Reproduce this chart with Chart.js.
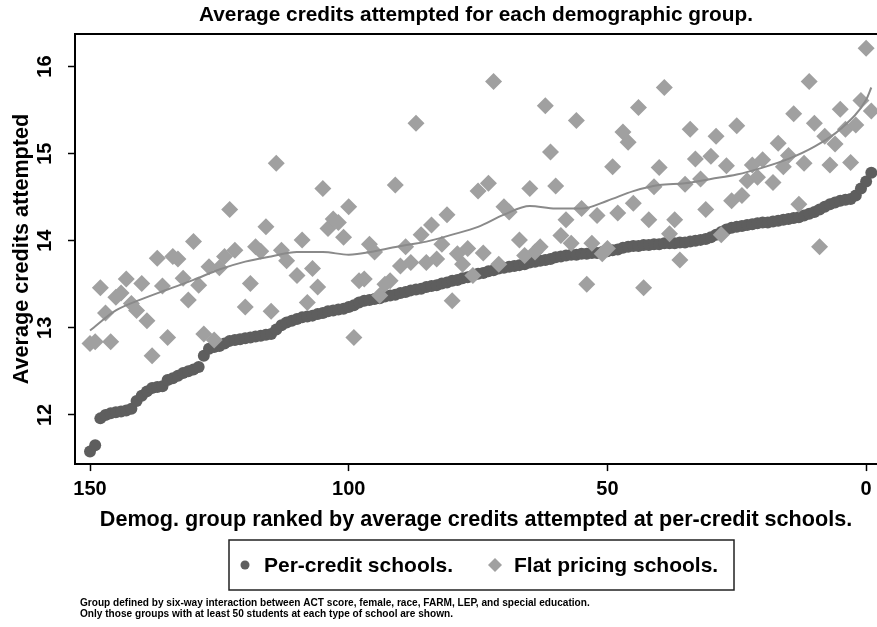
<!DOCTYPE html>
<html>
<head>
<meta charset="utf-8">
<title>Average credits attempted for each demographic group</title>
<script src="https://cdn.jsdelivr.net/npm/chart.js@4/dist/chart.umd.min.js"></script>
<style>
  html, body { margin: 0; padding: 0; background: #fff; }
  canvas { display: block; }
</style>
</head>
<body>
<canvas id="chart" width="877" height="627"></canvas>
<script>
// groups ranked by credits attempted at per-credit schools (150 = lowest)
const groupRanks = [
  150, 149, 148, 147, 146, 145, 144, 143, 142, 141,
  140, 139, 138, 137, 136, 135, 134, 133, 132, 131,
  130, 129, 128, 127, 126, 125, 124, 123, 122, 121,
  120, 119, 118, 117, 116, 115, 114, 113, 112, 111,
  110, 109, 108, 107, 106, 105, 104, 103, 102, 101,
  100, 99, 98, 97, 96, 95, 94, 93, 92, 91,
  90, 89, 88, 87, 86, 85, 84, 83, 82, 81,
  80, 79, 78, 77, 76, 75, 74, 73, 72, 71,
  70, 69, 68, 67, 66, 65, 64, 63, 62, 61,
  60, 59, 58, 57, 56, 55, 54, 53, 52, 51,
  50, 49, 48, 47, 46, 45, 44, 43, 42, 41,
  40, 39, 38, 37, 36, 35, 34, 33, 32, 31,
  30, 29, 28, 27, 26, 25, 24, 23, 22, 21,
  20, 19, 18, 17, 16, 15, 14, 13, 12, 11,
  10, 9, 8, 7, 6, 5, 4, 3, 2, 1,
  0, -1
];
const perCreditCredits = [
  11.58, 11.65, 11.96, 12.00, 12.02, 12.03, 12.04, 12.05, 12.07, 12.16,
  12.22, 12.27, 12.31, 12.32, 12.33, 12.40, 12.42, 12.45, 12.48, 12.50,
  12.52, 12.55, 12.68, 12.76, 12.78, 12.79, 12.82, 12.85, 12.86, 12.87,
  12.88, 12.89, 12.90, 12.91, 12.92, 12.93, 12.98, 13.03, 13.06, 13.08,
  13.10, 13.12, 13.13, 13.14, 13.16, 13.17, 13.19, 13.20, 13.21, 13.22,
  13.24, 13.26, 13.29, 13.31, 13.32, 13.33, 13.34, 13.36, 13.37, 13.38,
  13.40, 13.41, 13.43, 13.44, 13.45, 13.47, 13.48, 13.49, 13.51, 13.52,
  13.54, 13.55, 13.57, 13.58, 13.60, 13.62, 13.63, 13.65, 13.66, 13.68,
  13.69, 13.70, 13.71, 13.72, 13.73, 13.75, 13.76, 13.77, 13.78, 13.79,
  13.81, 13.82, 13.83, 13.84, 13.84, 13.85, 13.85, 13.86, 13.86, 13.87,
  13.88, 13.89, 13.90, 13.92, 13.93, 13.94, 13.94, 13.95, 13.95, 13.96,
  13.96, 13.97, 13.97, 13.97, 13.98, 13.98, 13.99, 14.00, 14.01, 14.02,
  14.04, 14.07, 14.10, 14.13, 14.15, 14.16, 14.17, 14.18, 14.19, 14.20,
  14.21, 14.21, 14.22, 14.23, 14.24, 14.25, 14.26, 14.27, 14.29, 14.31,
  14.33, 14.36, 14.39, 14.42, 14.44, 14.46, 14.47, 14.48, 14.52, 14.60,
  14.68, 14.78
];

// flat pricing schools, same groups (some hidden under others)
const flatRanks = [
  150, 149, 148, 147, 146, 145, 144, 143, 142, 141,
  140, 139, 138, 137, 136, 135, 134, 133, 132, 131,
  130, 129, 128, 127, 126, 125, 124, 123, 122, 120,
  119, 118, 117, 116, 115, 114, 113, 112, 110, 109,
  108, 107, 106, 105, 104, 103, 102, 101, 100, 99,
  98, 97, 96, 95, 94, 93, 92, 91, 90, 89,
  88, 87, 86, 85, 84, 83, 82, 81, 80, 79,
  78, 77, 76, 75, 74, 73, 72, 71, 70, 69,
  67, 66, 65, 64, 63, 62, 61, 60, 59, 58,
  57, 56, 55, 54, 53, 52, 51, 50, 49, 48,
  47, 46, 45, 44, 43, 42, 41, 40, 39, 38,
  37, 36, 35, 34, 33, 32, 31, 30, 29, 28,
  27, 26, 25, 24, 23, 22, 21, 20, 18, 17,
  16, 15, 14, 13, 12, 11, 10, 9, 8, 7,
  6, 5, 4, 3, 2, 1, 0, -1
];
const flatCredits = [
  12.82, 12.84, 13.46, 13.17, 12.84, 13.35, 13.40, 13.56, 13.28, 13.20,
  13.51, 13.08, 12.68, 13.80, 13.48, 12.89, 13.82, 13.79, 13.57, 13.32,
  13.99, 13.49, 12.93, 13.70, 12.86, 13.69, 13.82, 14.36, 13.89, 13.24,
  13.51, 13.93, 13.88, 14.16, 13.19, 14.89, 13.89, 13.77, 13.60, 14.01,
  13.29, 13.68, 13.47, 14.60, 14.14, 14.25, 14.21, 14.04, 14.39, 12.89,
  13.54, 13.56, 13.96, 13.87, 13.37, 13.50, 13.54, 14.64, 13.71, 13.93,
  13.75, 15.35, 14.07, 13.75, 14.18, 13.79, 13.96, 14.30, 13.31, 13.85,
  13.73, 13.91, 13.60, 14.57, 13.86, 14.66, 15.83, 13.73, 14.39, 14.33,
  14.01, 13.83, 14.60, 13.87, 13.93, 15.55, 15.02, 14.63, 14.06, 14.24,
  13.97, 15.38, 14.37, 13.50, 13.97, 14.29, 13.85, 13.91, 14.85, 14.32,
  15.25, 15.13, 14.43, 15.53, 13.46, 14.24, 14.62, 14.84, 15.76, 14.08,
  14.24, 13.78, 14.65, 15.28, 14.94, 14.71, 14.36, 14.97, 15.20, 14.07,
  14.86, 14.46, 15.32, 14.52, 14.69, 14.87, 14.73, 14.93, 14.67, 15.12,
  14.85, 14.98, 15.46, 14.42, 14.89, 15.83, 15.35, 13.93, 15.20, 14.87,
  15.11, 15.51, 15.28, 14.90, 15.33, 15.61, 16.21, 15.49
];

// smoothed (lowess) line through the flat pricing points
const smoothRanks = [150, 145, 140, 135, 130, 125, 120, 115, 110, 105, 100, 95, 90, 85, 80, 75, 70, 65, 60, 55, 50, 45, 40, 35, 30, 25, 20, 15, 10, 5, 0, -1];
const smoothCredits = [12.97, 13.20, 13.33, 13.44, 13.55, 13.67, 13.76, 13.82, 13.87, 13.87, 13.84, 13.88, 13.94, 13.99, 14.07, 14.16, 14.30, 14.40, 14.37, 14.37, 14.46, 14.57, 14.64, 14.66, 14.71, 14.76, 14.84, 14.94, 15.08, 15.28, 15.62, 15.76];

const xTickValues = [150, 100, 50, 0];
const yTickValues = [12, 13, 14, 15, 16];

const legendLabels = ['Per-credit schools.', 'Flat pricing schools.'];
const noteLines = [
  'Group defined by six-way interaction between ACT score, female, race, FARM, LEP, and special education.',
  'Only those groups with at least 50 students at each type of school are shown.'
];

const perCreditColor = '#5e5e5e';
const flatColor = '#a0a0a0';
const smoothColor = '#8a8a8a';
const fontFamily = "'Liberation Sans', Arial, sans-serif";

function toPoints(xs, ys) {
  return xs.map((x, i) => ({ x: x, y: ys[i] }));
}

// stata look: top frame line, rotated y labels, boxed legend and notes
const stataExtras = {
  id: 'stataExtras',
  afterDraw(chart) {
    const ctx = chart.ctx;
    const area = chart.chartArea;
    const yScale = chart.scales.y;
    ctx.save();

    ctx.strokeStyle = '#000';
    ctx.lineWidth = 2;
    ctx.beginPath();
    ctx.moveTo(area.left, area.top);
    ctx.lineTo(area.right, area.top);
    ctx.stroke();

    ctx.fillStyle = '#000';
    ctx.font = 'bold 20px ' + fontFamily;
    ctx.textAlign = 'center';
    ctx.textBaseline = 'alphabetic';
    yScale.ticks.forEach(t => {
      ctx.save();
      ctx.translate(51, yScale.getPixelForValue(t.value));
      ctx.rotate(-Math.PI / 2);
      ctx.fillText(String(t.value), 0, 0);
      ctx.restore();
    });

    // legend box
    const boxTop = 540, boxH = 50, cy = boxTop + boxH / 2;
    ctx.lineWidth = 1.5;
    ctx.strokeStyle = '#222';
    ctx.strokeRect(229, boxTop, 505, boxH);
    ctx.font = 'bold 21px ' + fontFamily;
    ctx.textAlign = 'left';
    ctx.textBaseline = 'middle';

    ctx.fillStyle = perCreditColor;
    ctx.beginPath();
    ctx.arc(245, cy, 4.5, 0, Math.PI * 2);
    ctx.fill();
    ctx.fillStyle = '#000';
    ctx.fillText(legendLabels[0], 264, cy + 1);

    ctx.fillStyle = flatColor;
    ctx.beginPath();
    ctx.moveTo(495, cy - 7);
    ctx.lineTo(502, cy);
    ctx.lineTo(495, cy + 7);
    ctx.lineTo(488, cy);
    ctx.closePath();
    ctx.fill();
    ctx.fillStyle = '#000';
    ctx.fillText(legendLabels[1], 514, cy + 1);

    ctx.font = 'bold 10.1px ' + fontFamily;
    noteLines.forEach((line, i) => ctx.fillText(line, 80, 603 + i * 11));

    ctx.restore();
  }
};

const chart = new Chart(document.getElementById('chart'), {
  type: 'scatter',
  data: {
    datasets: [
      {
        type: 'line',
        label: 'smooth',
        data: toPoints(smoothRanks, smoothCredits),
        borderColor: smoothColor,
        borderWidth: 2,
        pointRadius: 0,
        cubicInterpolationMode: 'monotone',
        fill: false,
        order: 0
      },
      {
        label: legendLabels[1],
        data: toPoints(flatRanks, flatCredits),
        pointStyle: 'rectRot',
        pointRadius: 8.5,
        backgroundColor: flatColor,
        borderWidth: 0,
        order: 1
      },
      {
        label: legendLabels[0],
        data: toPoints(groupRanks, perCreditCredits),
        pointStyle: 'circle',
        pointRadius: 6,
        backgroundColor: perCreditColor,
        borderWidth: 0,
        order: 2
      }
    ]
  },
  options: {
    responsive: false,
    animation: false,
    events: [],
    layout: {
      autoPadding: false,
      padding: { top: 0, left: 0, right: 0, bottom: 92 }
    },
    plugins: {
      legend: { display: false },
      tooltip: { enabled: false },
      title: {
        display: true,
        fullSize: false,
        text: 'Average credits attempted for each demographic group.',
        color: '#000',
        font: { size: 20.8, weight: 'bold', family: fontFamily, lineHeight: 1.2 },
        padding: { top: 3, bottom: 6 }
      }
    },
    scales: {
      x: {
        type: 'linear',
        position: 'bottom',
        reverse: true,
        min: -2.1,
        max: 152.9,
        afterBuildTicks: scale => { scale.ticks = xTickValues.map(v => ({ value: v })); },
        afterFit: scale => { scale.paddingLeft = 0; scale.paddingRight = 0; },
        grid: { drawOnChartArea: false, drawTicks: true, tickLength: 7, tickColor: '#000', tickWidth: 1.5 },
        border: { display: true, color: '#000', width: 2 },
        ticks: {
          color: '#000',
          autoSkip: false,
          maxRotation: 0,
          padding: 6,
          font: { size: 20, weight: 'bold', family: fontFamily }
        },
        title: {
          display: true,
          text: 'Demog. group ranked by average credits attempted at per-credit schools.',
          color: '#000',
          font: { size: 21.6, weight: 'bold', family: fontFamily, lineHeight: 1.2 },
          padding: { top: 0, bottom: 2 }
        }
      },
      y: {
        type: 'linear',
        min: 11.435,
        max: 16.375,
        afterBuildTicks: scale => { scale.ticks = yTickValues.map(v => ({ value: v })); },
        afterFit: scale => { scale.width = 75; },
        grid: { drawOnChartArea: false, drawTicks: true, tickLength: 7, tickColor: '#000', tickWidth: 1.5 },
        border: { display: true, color: '#000', width: 2 },
        ticks: { display: false },
        title: {
          display: true,
          text: 'Average credits attempted',
          color: '#000',
          font: { size: 21.6, weight: 'bold', family: fontFamily, lineHeight: 1.2 },
          padding: { top: 9, bottom: 0 }
        }
      }
    }
  },
  plugins: [stataExtras]
});
</script>
</body>
</html>
